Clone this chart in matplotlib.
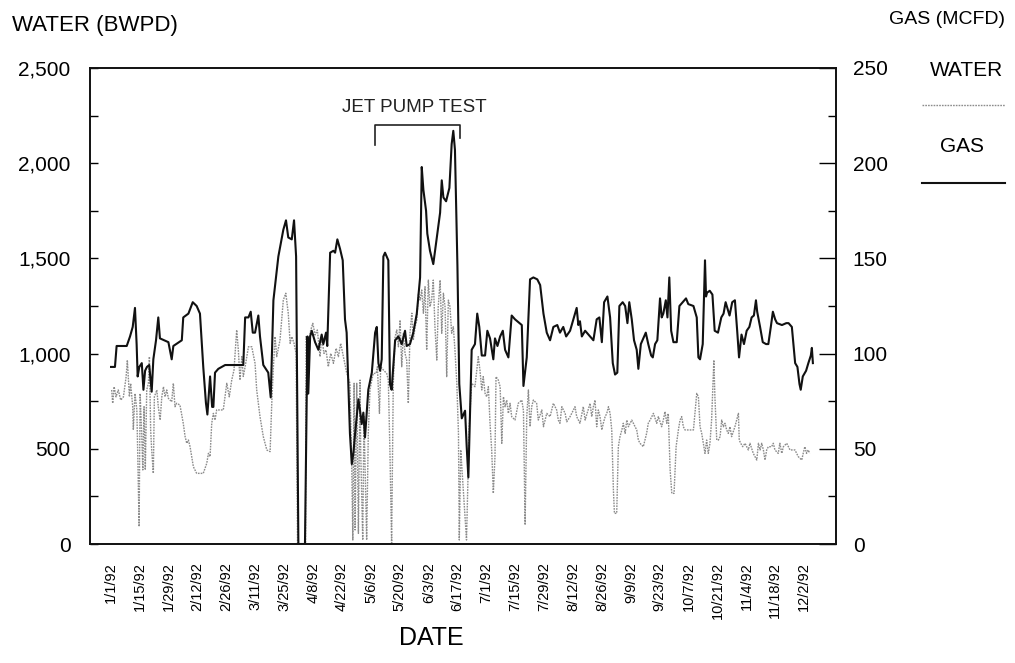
import matplotlib
matplotlib.use("Agg")
import matplotlib.pyplot as plt
from matplotlib.lines import Line2D
from matplotlib.ticker import MultipleLocator, FuncFormatter

plt.rcParams['font.family'] = ['Liberation Sans', 'DejaVu Sans']

# ---- data: days since 1/1/92 and values ----
gas_day = [0.0, 1.9, 2.7, 7.6, 9.2, 10.5, 11.6, 12.4, 12.9, 13.7, 14.9, 15.7, 16.5, 17.4, 18.5,
           19.7, 20.5, 21.8, 22.9, 23.7, 27.8, 29.4, 30.2, 34.3, 35.0, 37.5, 39.6, 41.5, 43.1,
           44.7, 46.0, 46.7, 48.0, 49.0, 49.6, 50.4, 52.0, 55.3, 64.1, 65.0, 66.6, 67.7, 68.7,
           69.8, 71.4, 72.2, 73.8, 76.2, 77.4, 78.7, 81.1, 83.5, 84.8, 85.9, 87.6, 88.7, 89.7,
           90.8, 94.0, 95.2, 95.6, 96.5, 97.3, 98.9, 100.5, 102.1, 102.9, 104.2, 104.8, 106.2,
           107.8, 108.6, 109.7, 111.0, 112.3, 113.4, 114.2, 115.8, 116.7, 117.5, 118.3, 119.9,
           120.7, 121.5, 122.3, 123.1, 124.7, 126.4, 128.0, 128.8, 129.6, 130.4, 131.2, 132.0,
           132.8, 134.4, 135.2, 136.0, 137.7, 139.3, 140.9, 142.5, 143.3, 144.9, 146.5, 148.2,
           149.8, 150.6, 151.4, 152.7, 153.3, 154.6, 156.2, 157.9, 159.5, 160.3, 161.1, 162.4,
           164.0, 165.1, 165.9, 166.7, 167.9, 168.8, 170.0, 171.6, 172.4, 173.2, 174.8, 176.4,
           177.5, 178.5, 179.7, 181.3, 182.4, 183.7, 185.3, 186.1, 187.3, 188.6, 189.9, 191.0,
           192.6, 194.2, 195.8, 199.1, 199.9, 201.5, 203.1, 204.7, 206.6, 208.0, 209.6, 211.2,
           212.8, 214.4, 216.3, 217.6, 219.2, 220.6, 222.5, 225.7, 226.5, 227.3, 228.2, 229.8,
           233.8, 235.4, 236.7, 237.9, 239.0, 240.6, 241.9, 243.2, 244.3, 245.4, 246.4, 248.0,
           249.2, 250.3, 251.2, 252.4, 253.5, 254.8, 255.6, 256.8, 259.2, 260.4, 261.8, 262.6,
           263.7, 264.8, 266.1, 266.9, 267.7, 268.9, 269.7, 270.6, 271.5, 272.6, 274.2, 275.5,
           277.1, 278.7, 279.8, 282.3, 283.9, 284.7, 285.5, 286.8, 287.4, 287.9, 288.4, 288.9,
           290.2, 291.5, 292.6, 294.2, 295.8, 296.9, 297.9, 299.0, 299.8, 301.1, 302.4, 303.5,
           304.4, 305.6, 306.8, 308.1, 309.4, 310.5, 311.6, 312.6, 313.2, 314.6, 315.9, 317.5,
           318.6, 319.8, 320.8, 321.9, 322.8, 325.2, 327.3, 328.4, 330.0, 331.6, 332.7, 333.7,
           334.3, 335.3, 336.9, 338.0, 339.2, 339.7, 340.2]
gas_mcfd = [93, 93, 104, 104, 109, 114, 124, 105, 88, 93, 95, 81, 91, 93, 94,
            80, 97, 107, 119, 108, 106, 97, 104, 107, 119, 121, 127, 125, 121,
            93, 74, 68, 88, 72, 72, 90, 92, 94, 94, 119, 119, 122, 111,
            111, 120, 109, 94, 90, 77, 128, 151, 165, 170, 161, 160, 170, 151,
            0, 0, 109, 79, 109, 112, 106, 102, 110, 105, 111, 104, 153,
            154, 153, 160, 155, 149, 118, 111, 58, 42, 48, 58, 76,
            70, 63, 69, 56, 81, 90, 111, 114, 95, 91, 97, 151,
            153, 149, 84, 81, 107, 109, 105, 112, 104, 105, 111, 121,
            140, 198, 186, 175, 163, 154, 147, 161, 174, 191, 182, 180,
            187, 210, 217, 207, 146, 84, 66, 70, 51, 35, 102, 105,
            121, 114, 99, 99, 112, 108, 97, 108, 104, 109, 112, 102,
            98, 120, 118, 115, 83, 98, 139, 140, 139, 136, 121, 111,
            107, 114, 115, 111, 114, 109, 112, 124, 115, 117, 109, 112,
            107, 118, 119, 106, 127, 130, 119, 95, 89, 90, 125, 127,
            125, 116, 127, 118, 107, 102, 92, 105, 111, 105, 99, 98,
            105, 107, 129, 119, 121, 128, 119, 140, 112, 106, 106, 125,
            127, 129, 126, 125, 119, 98, 97, 105, 128, 149, 130, 132,
            133, 131, 112, 111, 119, 121, 127, 123, 120, 127, 128, 112,
            98, 110, 105, 112, 114, 119, 120, 128, 122, 114, 106, 105,
            105, 114, 122, 118, 116, 115, 116, 116, 114, 95, 93, 84,
            81, 88, 91, 95, 99, 103, 95]

water_day = [0.3, 0.8, 1.5, 2.4, 3.5, 4.7, 6.0, 7.3, 7.9, 8.9, 9.5, 10.5, 10.8, 11.6, 12.5,
             12.9, 13.6, 14.1, 14.9, 15.4, 16.0, 16.6, 17.3, 18.1, 18.6, 19.2, 19.7, 20.5, 21.0,
             22.2, 22.9, 23.8, 24.6, 25.4, 26.2, 27.0, 27.8, 29.4, 30.2, 31.0, 31.8, 33.4, 35.0,
             35.9, 36.7, 37.5, 38.3, 39.1, 39.9, 41.5, 44.7, 46.4, 47.2, 48.0, 48.8, 49.6, 50.4,
             51.2, 52.8, 54.4, 56.1, 57.3, 58.5, 59.6, 60.9, 61.7, 62.5, 63.4, 64.1, 65.0, 66.6,
             68.2, 69.8, 70.6, 72.2, 73.8, 75.5, 77.1, 77.9, 78.7, 79.5, 80.3, 81.9, 83.5, 84.7,
             85.9, 86.8, 87.6, 88.7, 89.7, 90.4, 94.3, 94.5, 95.6, 96.8, 97.8, 98.9, 100.0, 101.3,
             102.1, 103.2, 104.2, 105.3, 106.5, 107.8, 109.1, 110.2, 111.3, 112.6, 114.2, 115.8,
             116.7, 117.2, 117.8, 118.3, 119.1, 119.9, 120.7, 121.0, 122.0, 122.6, 123.9, 124.7,
             125.5, 126.4, 127.1, 128.5, 129.1, 130.1, 130.7, 132.0, 133.6, 134.4, 135.2, 136.0,
             136.8, 137.7, 138.5, 139.3, 140.1, 140.9, 141.7, 142.5, 143.3, 144.1, 144.9, 145.8,
             146.5, 147.4, 148.2, 149.0, 149.8, 150.6, 151.4, 152.2, 153.0, 153.8, 154.6, 155.4,
             156.2, 157.0, 157.9, 158.6, 159.5, 160.3, 161.1, 161.9, 162.7, 163.5, 164.3, 165.1,
             165.9, 166.7, 167.6, 168.4, 168.8, 169.5, 172.3, 173.6, 174.8, 176.4, 178.0, 178.8,
             179.7, 180.4, 181.3, 182.1, 182.9, 183.7, 184.5, 185.3, 186.1, 186.6, 187.7, 188.6,
             189.4, 190.2, 191.0, 191.8, 192.6, 193.4, 194.2, 195.8, 197.4, 199.1, 199.9, 200.7,
             201.5, 202.3, 203.1, 203.9, 204.7, 206.3, 207.1, 208.8, 209.6, 211.2, 212.8, 214.4,
             216.0, 216.8, 217.6, 218.5, 220.1, 220.9, 222.5, 224.1, 224.9, 225.7, 227.3, 228.9,
             229.8, 232.2, 233.0, 233.8, 234.6, 235.4, 236.2, 237.0, 237.9, 238.6, 239.5, 240.3,
             241.1, 241.9, 242.7, 243.5, 244.0, 245.1, 245.9, 246.7, 247.6, 248.3, 249.2, 250.0,
             250.8, 251.6, 252.4, 254.0, 254.8, 255.6, 256.4, 258.0, 259.6, 260.4, 261.3, 262.1,
             262.9, 264.5, 265.3, 266.9, 267.7, 268.5, 269.4, 270.1, 271.0, 271.8, 272.9, 273.9,
             275.0, 275.8, 276.6, 277.4, 278.2, 280.6, 282.3, 283.9, 284.7, 285.5, 286.3, 287.1,
             287.9, 288.7, 289.5, 290.3, 291.1, 291.6, 292.2, 292.7, 293.6, 294.4, 295.2, 296.0,
             296.8, 297.6, 298.4, 299.2, 300.0, 300.8, 302.4, 304.1, 304.5, 305.2, 306.2, 307.3,
             308.9, 309.7, 311.3, 313.0, 313.8, 314.6, 315.4, 316.2, 317.0, 317.8, 318.6, 320.2,
             321.0, 321.8, 323.4, 324.2, 325.1, 325.9, 327.5, 329.1, 331.5, 332.3, 333.1, 334.8,
             335.5, 336.3, 337.1, 337.9, 338.7]
water_bwpd = [809, 739, 826, 773, 809, 756, 773, 878, 966, 773, 844, 721, 599, 791, 704,
              494, 91, 791, 564, 389, 721, 389, 809, 844, 984, 599, 494, 371, 773,
              809, 721, 651, 773, 826, 773, 809, 765, 747, 844, 721, 739, 730, 634,
              564, 529, 546, 511, 459, 406, 371, 371, 424, 476, 459, 634, 686, 651,
              704, 704, 704, 844, 773, 861, 914, 1124, 1019, 861, 984, 880, 931, 1036,
              1036, 949, 809, 669, 564, 494, 485, 739, 931, 1089, 984, 1071, 1281, 1317,
              1212, 1054, 1089, 1054, 1000, 0, 0, 1089, 1054, 1124, 1159, 1098, 1124, 984,
              1089, 1001, 1019, 931, 1001, 949, 1028, 984, 1054, 984, 900, 844,
              389, 21, 844, 74, 844, 56, 861, 494, 21, 669, 21, 581,
              809, 861, 896, 896, 931, 686, 931, 914, 896, 861, 476, 5,
              844, 1089, 1124, 1036, 1176, 931, 1106, 1001, 966, 739, 1107, 1212,
              1071, 1141, 1176, 1317, 1281, 1334, 1212, 1351, 1019, 1386, 1246, 1281,
              1386, 1141, 966, 1246, 1386, 1107, 1317, 1246, 879, 1281, 1246, 1107,
              1141, 1019, 844, 581, 21, 494, 21, 616, 844, 826, 984, 914,
              809, 879, 791, 773, 826, 634, 494, 266, 459, 879, 861, 826,
              529, 773, 721, 756, 686, 739, 669, 651, 739, 756, 700, 100,
              669, 809, 616, 721, 756, 739, 651, 704, 616, 686, 669, 739,
              704, 651, 634, 721, 686, 642, 669, 704, 721, 669, 634, 721,
              651, 739, 669, 721, 756, 616, 704, 669, 599, 634, 669, 686,
              721, 686, 599, 284, 161, 161, 511, 564, 599, 634, 581, 651,
              616, 634, 651, 616, 599, 546, 529, 511, 581, 634, 651, 669,
              686, 634, 669, 616, 651, 695, 634, 686, 389, 266, 266, 511,
              599, 651, 669, 616, 599, 599, 599, 791, 773, 616, 581, 529,
              476, 546, 476, 529, 651, 791, 966, 773, 546, 546, 564, 651,
              616, 634, 599, 581, 616, 564, 616, 686, 546, 529, 511, 529,
              494, 529, 476, 441, 529, 494, 529, 494, 441, 494, 511, 511,
              529, 494, 476, 529, 476, 511, 529, 494, 494, 476, 459, 441,
              476, 511, 476, 494, 476]

tick_labels = ['1/1/92', '1/15/92', '1/29/92', '2/12/92', '2/26/92', '3/11/92', '3/25/92',
               '4/8/92', '4/22/92', '5/6/92', '5/20/92', '6/3/92', '6/17/92', '7/1/92',
               '7/15/92', '7/29/92', '8/12/92', '8/26/92', '9/9/92', '9/23/92', '10/7/92',
               '10/21/92', '11/4/92', '11/18/92', '12/2/92']
tick_step_days = 14

jet_test_start = 128   # day
jet_test_end = 169     # day

W, H = 1015, 663
fig = plt.figure(figsize=(W / 100, H / 100), dpi=100)
ax = fig.add_axes([90 / W, 1 - 544 / H, (836 - 90) / W, (544 - 68) / H])
ax2 = ax.twinx()

water_style = dict(color='#8c8c8c', lw=1.0, ls=(0, (1.2, 0.8)))
gas_style = dict(color='#111111', lw=1.5, ls='-')

ax.plot(water_day, water_bwpd, **water_style)
ax2.plot(gas_day, gas_mcfd, **gas_style)

ax.set_xlim(-10.2, 351.4)
ax.set_ylim(0, 2500)
ax2.set_ylim(0, 250)

ax.set_xticks([i * tick_step_days for i in range(len(tick_labels))])
ax.set_xticklabels(tick_labels, rotation=90, fontsize=10.5)
ax.tick_params(axis='x', length=0, pad=13)

ax.yaxis.set_major_locator(MultipleLocator(500))
ax.yaxis.set_minor_locator(MultipleLocator(250))
ax.yaxis.set_major_formatter(FuncFormatter(lambda v, p: f"{int(v):,}"))
ax.tick_params(axis='y', which='both', direction='in', length=6, width=1, labelsize=15, pad=14)

ax2.yaxis.set_major_locator(MultipleLocator(50))
ax2.yaxis.set_minor_locator(MultipleLocator(25))
ax2.tick_params(axis='y', which='major', direction='in', length=12, width=1, labelsize=15, pad=12)
ax2.tick_params(axis='y', which='minor', direction='in', length=6, width=1)

for a in (ax, ax2):
    for s in a.spines.values():
        s.set_linewidth(1.2)
        s.set_color('#111111')

# jet pump test bracket
ax.plot([jet_test_start, jet_test_start, jet_test_end, jet_test_end],
        [2095, 2200, 2200, 2130], color='#222222', lw=1.2)
ax.text((jet_test_start + jet_test_end) / 2 - 1.5, 2290, 'JET PUMP TEST', ha='center',
        va='center', fontsize=13.5, color='#222222')

# axis titles
fig.text(12 / W, 1 - 25 / H, 'WATER (BWPD)', ha='left', va='center', fontsize=16)
fig.text(1005 / W, 1 - 20 / H, 'GAS (MCFD)', ha='right', va='center', fontsize=14)
fig.text(431 / W, 1 - 638 / H, 'DATE', ha='center', va='center', fontsize=18)

# legend (labels above line samples)
fig.text(967 / W, 1 - 71 / H, 'WATER', ha='center', va='center', fontsize=15)
fig.add_artist(Line2D([922 / W, 1005 / W], [1 - 105 / H, 1 - 105 / H],
                      transform=fig.transFigure, **water_style))
fig.text(962 / W, 1 - 147 / H, 'GAS', ha='center', va='center', fontsize=15)
fig.add_artist(Line2D([922 / W, 1005 / W], [1 - 183 / H, 1 - 183 / H],
                      transform=fig.transFigure, **gas_style))

fig.savefig('out.png', dpi=100)
